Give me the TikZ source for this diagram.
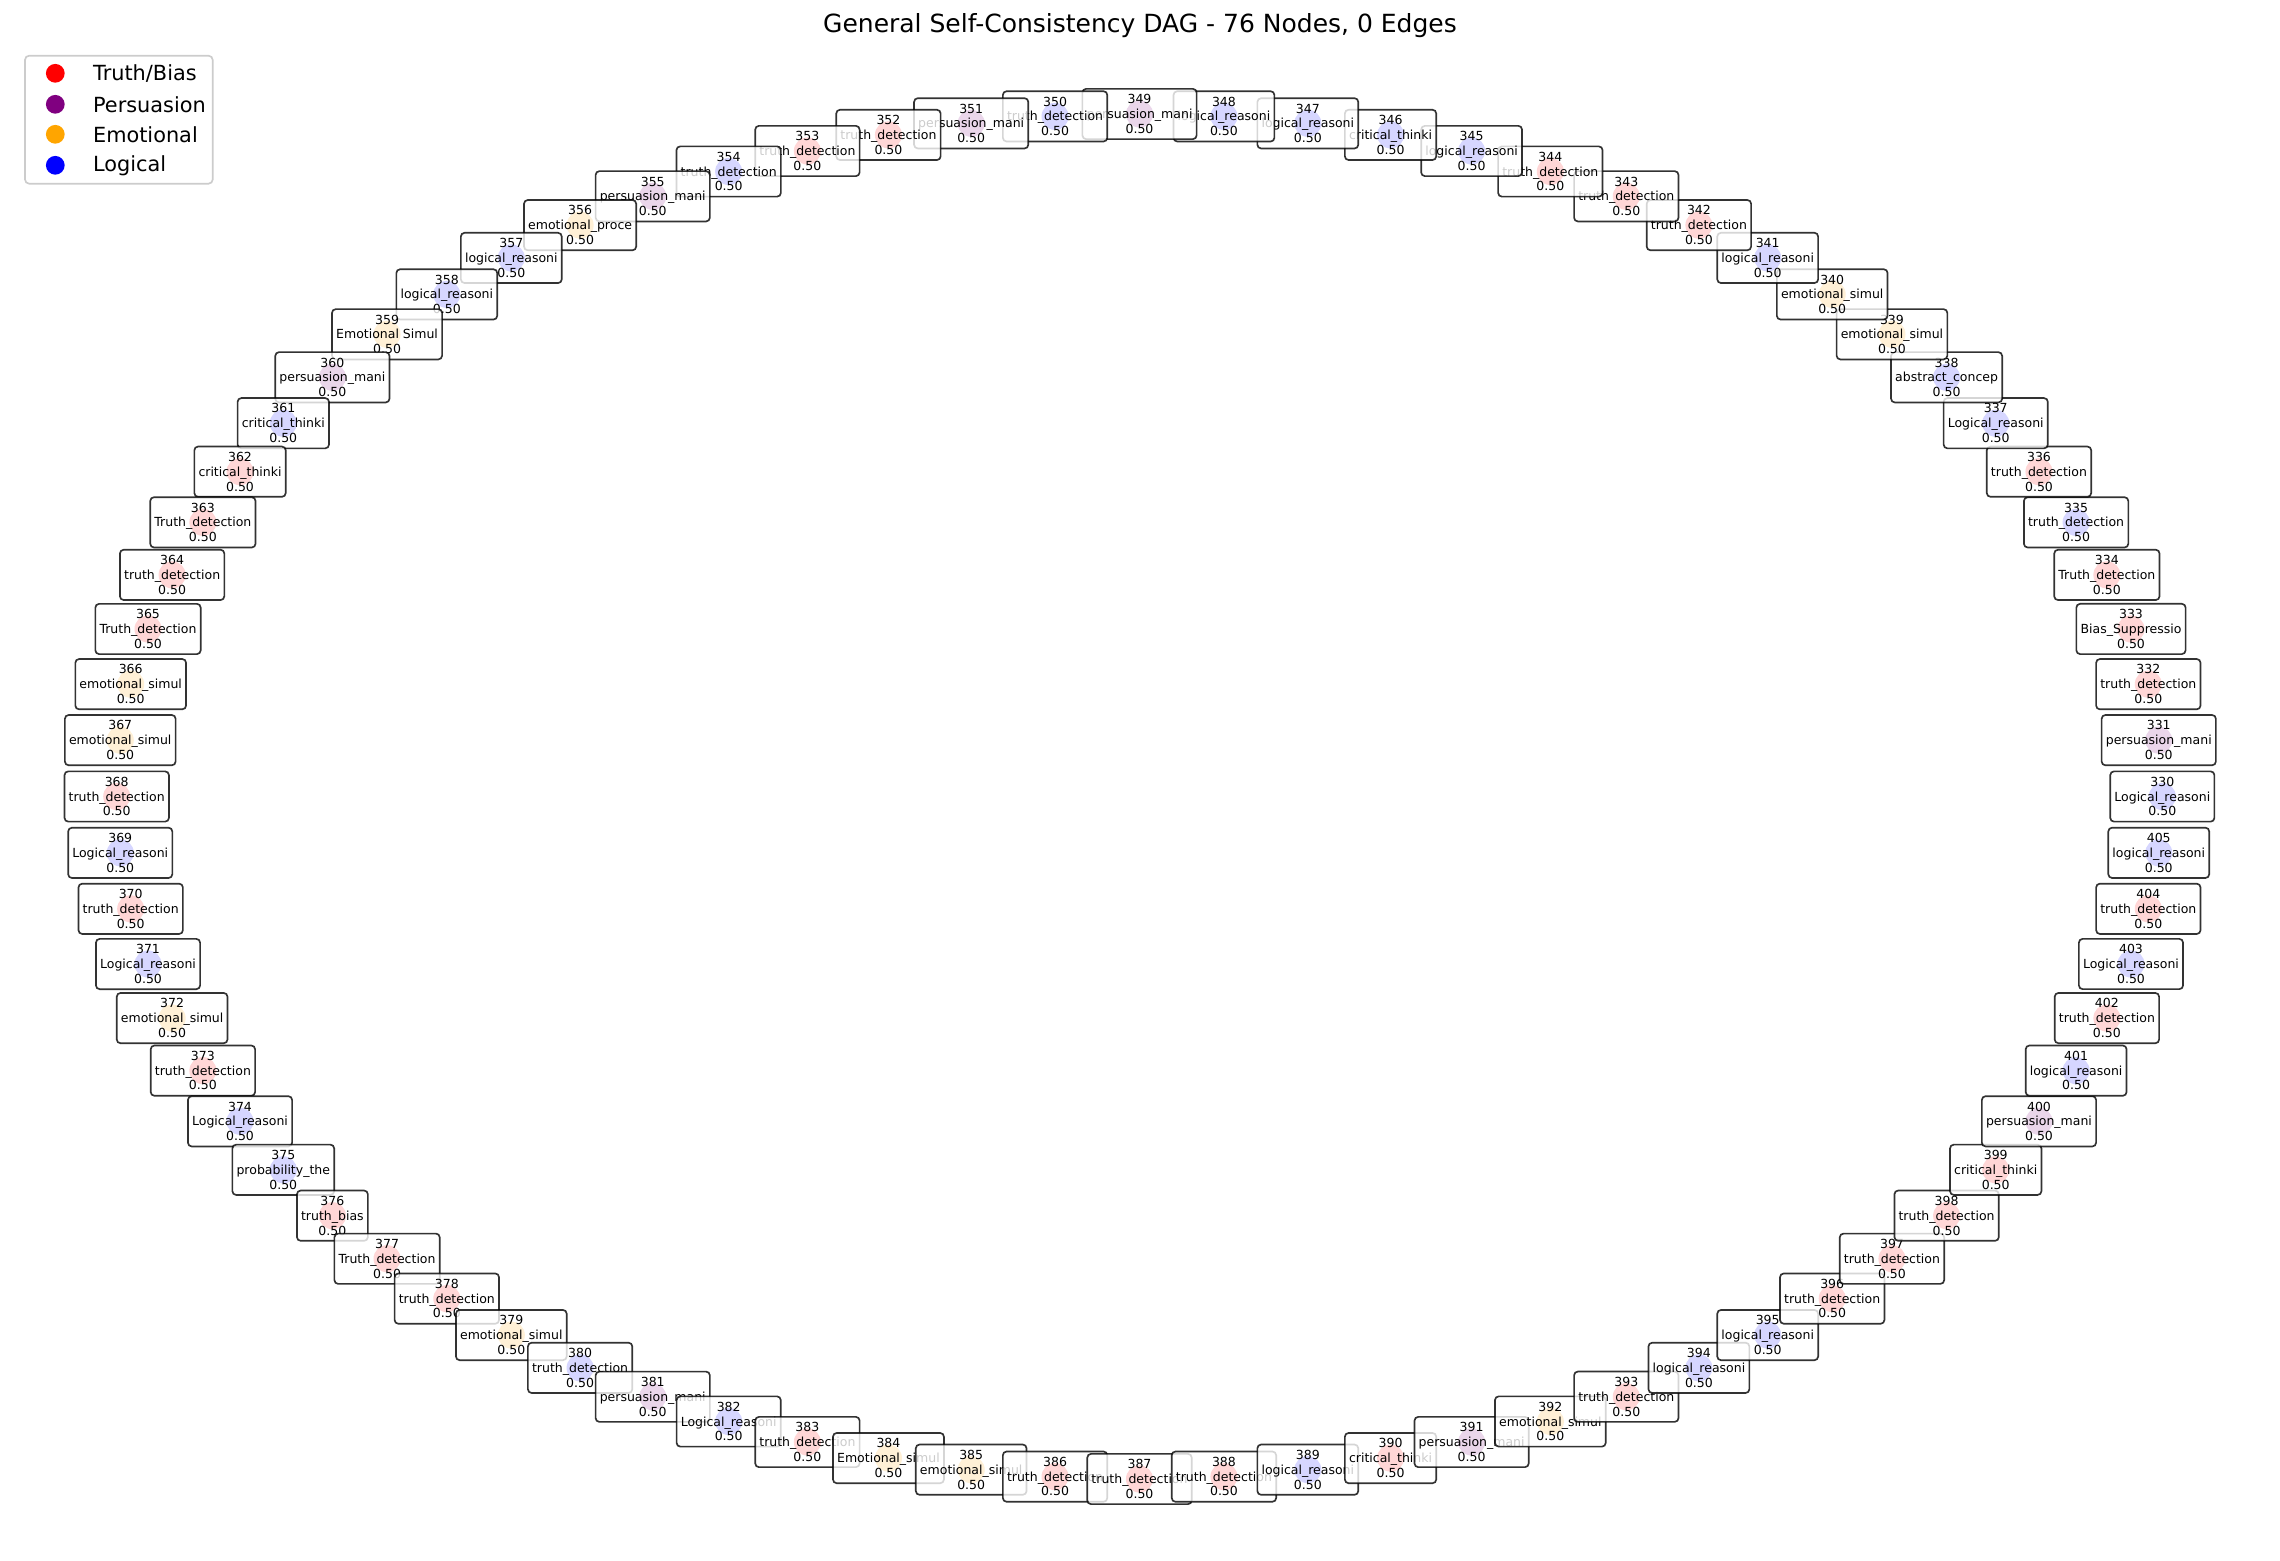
\documentclass[tikz,border=0pt]{standalone}
\usepackage{fontspec}
\setmainfont{DejaVu Sans}
\definecolor{cT}{HTML}{FF0000}
\definecolor{cP}{HTML}{800080}
\definecolor{cE}{HTML}{FFA500}
\definecolor{cL}{HTML}{0000FF}
\definecolor{legedge}{HTML}{CCCCCC}
\tikzset{
  lbl/.style={draw=black, draw opacity=0.8, fill=white, fill opacity=0.8, text opacity=1,
    rounded corners=1.8pt, line width=0.8pt, align=center,
    font=\fontsize{6}{7.1}\selectfont, inner xsep=2pt, inner ysep=2.7pt},
  nodedot/.style={fill=#1, fill opacity=0.8},
  legdot/.style={circle, fill=#1, inner sep=0pt, minimum size=9pt},
  legtext/.style={anchor=west, font=\fontsize{10}{12}\selectfont, inner sep=0pt},
  legframe/.style={draw=legedge, line width=0.8pt, fill=white, fill opacity=0.8, rounded corners=2pt},
  titletext/.style={font=\fontsize{12}{14}\selectfont}
}
\def\nodelist{Logical\_reasoni/cL, persuasion\_mani/cP, truth\_detection/cT, Bias\_Suppressio/cT,
 Truth\_detection/cT, truth\_detection/cL, truth\_detection/cT, Logical\_reasoni/cL, abstract\_concep/cL,
 emotional\_simul/cE, emotional\_simul/cE, logical\_reasoni/cL, truth\_detection/cT, truth\_detection/cT,
 truth\_detection/cT, logical\_reasoni/cL, critical\_thinki/cL, logical\_reasoni/cL, logical\_reasoni/cL,
 persuasion\_mani/cP, truth\_detection/cL, persuasion\_mani/cP, truth\_detection/cT, truth\_detection/cT,
 truth\_detection/cL, persuasion\_mani/cP, emotional\_proce/cE, logical\_reasoni/cL, logical\_reasoni/cL,
 Emotional Simul/cE, persuasion\_mani/cP, critical\_thinki/cL, critical\_thinki/cT, Truth\_detection/cT,
 truth\_detection/cT, Truth\_detection/cT, emotional\_simul/cE, emotional\_simul/cE, truth\_detection/cT,
 Logical\_reasoni/cL, truth\_detection/cT, Logical\_reasoni/cL, emotional\_simul/cE, truth\_detection/cT,
 Logical\_reasoni/cL, probability\_the/cL, truth\_bias/cT, Truth\_detection/cT, truth\_detection/cT,
 emotional\_simul/cE, truth\_detection/cL, persuasion\_mani/cP, Logical\_reasoni/cL, truth\_detection/cT,
 Emotional\_simul/cE, emotional\_simul/cE, truth\_detection/cT, truth\_detection/cT, truth\_detection/cT,
 logical\_reasoni/cL, critical\_thinki/cT, persuasion\_mani/cP, emotional\_simul/cE, truth\_detection/cT,
 logical\_reasoni/cL, logical\_reasoni/cL, truth\_detection/cT, truth\_detection/cT, truth\_detection/cT,
 critical\_thinki/cT, persuasion\_mani/cP, logical\_reasoni/cL, truth\_detection/cT, Logical\_reasoni/cL,
 truth\_detection/cT, logical\_reasoni/cL}
\begin{document}
\begin{tikzpicture}[x=0.48pt, y=-0.48pt]
\useasboundingbox (0,0) rectangle (2280,1561);
% title
\node[titletext] (title) at (1140,26) {General Self-Consistency DAG - 76 Nodes, 0 Edges};
% node dots
\foreach \lab/\col [count=\k from 0] in \nodelist {
  \pgfmathsetmacro\ang{\k*4.7368421}
  \pgfmathsetmacro\px{1139.5+1022.8*cos(\ang)}
  \pgfmathsetmacro\py{796.5-682.5*sin(\ang)}
  \fill[nodedot=\col] (\px,\py) circle[radius=6.5pt];
}
% node labels
\foreach \lab/\col [count=\k from 0] in \nodelist {
  \pgfmathsetmacro\ang{\k*4.7368421}
  \pgfmathsetmacro\px{1139.5+1022.8*cos(\ang)}
  \pgfmathsetmacro\py{796.5-682.5*sin(\ang)}
  \pgfmathtruncatemacro\num{330+\k}
  \node[lbl] (n\num) at (\px,\py) {\num\\\lab\\0.50};
}
% legend
\draw[legframe] (25,55.7) rectangle (212.7,183.7);
\node[legdot=cT] (ld1) at (55.3,73.3) {};
\node[legdot=cP] (ld2) at (55.3,104.3) {};
\node[legdot=cE] (ld3) at (55.3,134.3) {};
\node[legdot=cL] (ld4) at (55.3,165.3) {};
\node[legtext] (lt1) at (92.7,73.3) {Truth/Bias};
\node[legtext] (lt2) at (92.7,104.3) {Persuasion};
\node[legtext] (lt3) at (92.7,134.3) {Emotional};
\node[legtext] (lt4) at (92.7,165.3) {Logical};
\end{tikzpicture}
\end{document}
